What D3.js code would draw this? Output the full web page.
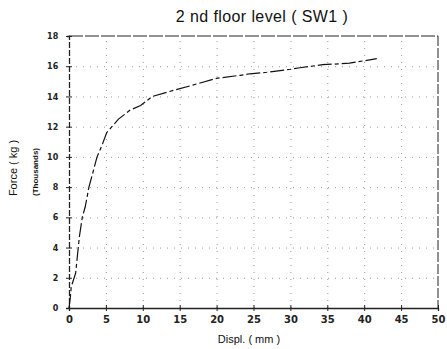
<!DOCTYPE html>
<html><head><meta charset="utf-8">
<script src="https://cdn.jsdelivr.net/npm/d3@7"></script>
<style>body{margin:0;background:#fff}svg{display:block}</style>
</head><body>
<script>
const title = "2 nd floor level ( SW1 )";
const xLabel = "Displ. ( mm )";
const yLabel = "Force ( kg )";
const yLabel2 = "(Thousands)";
const xTicks = [0,5,10,15,20,25,30,35,40,45,50];
const yTicks = [0,2,4,6,8,10,12,14,16,18];
const displ = [0,0.2,0.3,0.9,1.4,1.8,2.2,2.7,3.2,3.8,4.5,5.1,6.7,8.3,9.7,11.3,13.4,16.4,20,23.2,24.5,26.8,30,31.3,34.4,38,41.7];
const force = [0,0.8,1.4,2.3,4.7,6,6.7,8,8.9,10,10.8,11.6,12.5,13.1,13.4,14,14.3,14.7,15.2,15.4,15.5,15.6,15.8,15.9,16.1,16.2,16.5];

const W=447,H=349;
const svg=d3.select("body").append("svg").attr("width",W).attr("height",H);
const x=d3.scaleLinear().domain([0,50]).range([69,438]);
const y=d3.scaleLinear().domain([0,18]).range([308,36]);

// grid
const g=svg.append("g").attr("stroke","#999").attr("stroke-width",1).attr("stroke-dasharray","1,6");
g.selectAll("line.h").data(yTicks.filter(d=>d>0&&d<18)).join("line")
 .attr("x1",x(0)).attr("x2",x(50)).attr("y1",d=>y(d)+0.5).attr("y2",d=>y(d)+0.5);
g.selectAll("line.v").data(xTicks.filter(d=>d>0&&d<50)).join("line")
 .attr("x1",d=>x(d)+0.5).attr("x2",d=>x(d)+0.5).attr("y1",y(0)).attr("y2",y(18));

// frame
svg.append("line").attr("x1",x(0)).attr("x2",x(50)).attr("y1",y(18)).attr("y2",y(18)).attr("stroke","#222").attr("stroke-dasharray","14,2");
svg.append("line").attr("x1",x(50)).attr("x2",x(50)).attr("y1",y(18)).attr("y2",y(0)).attr("stroke","#222").attr("stroke-dasharray","10,2");

const xa=d3.axisBottom(x).tickValues(xTicks).tickSize(3).tickFormat(d3.format("d"));
const xg=svg.append("g").attr("transform",`translate(0,${y(0)})`).call(xa);
xg.select(".domain").attr("stroke","#222").attr("stroke-width",1.3);
xg.selectAll(".tick line").attr("y1",-3).attr("y2",3).attr("stroke","#222");
xg.selectAll("text").attr("font-family","DejaVu Sans").attr("font-size",10).attr("font-weight","bold").attr("fill","#222").attr("dy","0.9em");

const ya=d3.axisLeft(y).tickValues(yTicks).tickSize(3).tickFormat(d3.format("d"));
const yg=svg.append("g").attr("transform",`translate(${x(0)},0)`).call(ya);
yg.select(".domain").attr("stroke","#222").attr("stroke-width",1.3).attr("stroke-dasharray","6,2");
yg.selectAll(".tick line").attr("x1",-3).attr("x2",3).attr("stroke","#222");
yg.selectAll("text").attr("font-family","DejaVu Sans").attr("font-size",8).attr("font-weight","bold").attr("fill","#222").attr("dx","-0.6em");

// curve
const line=d3.line().x((d,i)=>x(displ[i])).y((d,i)=>y(force[i]));
svg.append("path").datum(displ).attr("d",line).attr("fill","none").attr("stroke","#111").attr("stroke-width",1.2).attr("stroke-dasharray","14,3,4,3");

// texts
svg.append("text").attr("x",262).attr("y",22).attr("text-anchor","middle").attr("font-family","Liberation Sans").attr("font-size",16).attr("letter-spacing","0.4").attr("fill","#111").text(title);
svg.append("text").attr("x",249).attr("y",343).attr("text-anchor","middle").attr("font-family","Liberation Sans").attr("font-size",11).attr("fill","#111").text(xLabel);
svg.append("text").attr("transform","translate(17,168) rotate(-90)").attr("text-anchor","middle").attr("font-family","Liberation Sans").attr("font-size",11).attr("fill","#111").text(yLabel);
svg.append("text").attr("transform","translate(38,172) rotate(-90)").attr("text-anchor","middle").attr("font-family","Liberation Sans").attr("font-size",8).attr("font-weight","bold").attr("fill","#111").text(yLabel2);
</script>
</body></html>
